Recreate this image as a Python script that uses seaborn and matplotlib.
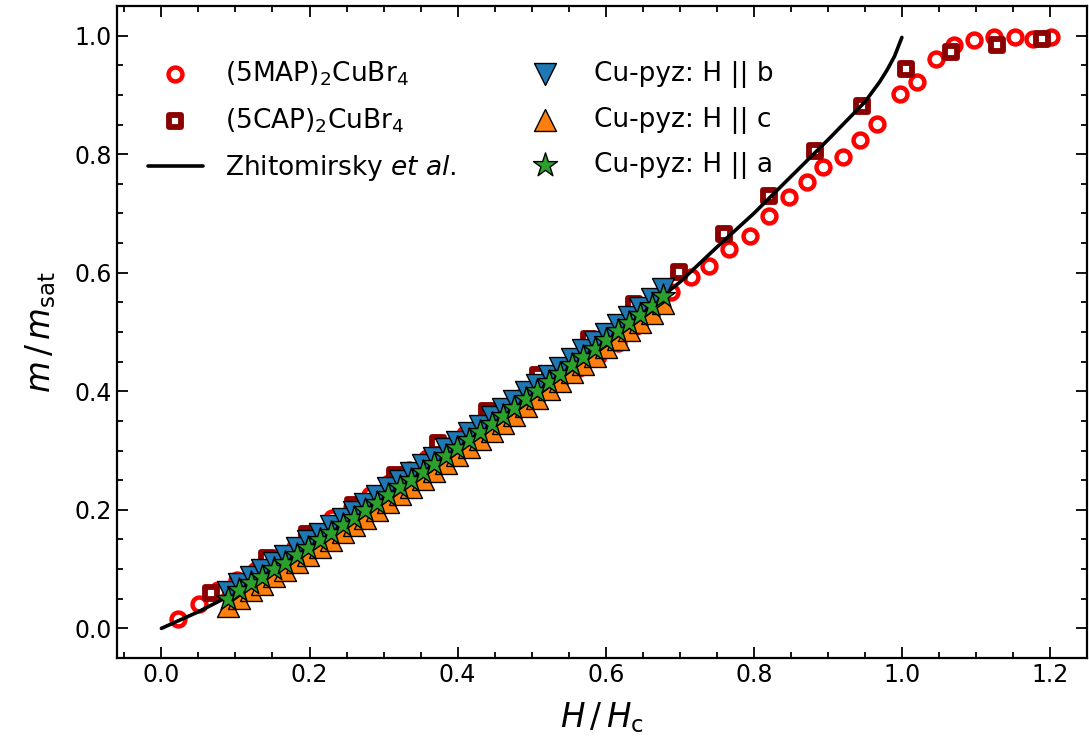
import matplotlib
matplotlib.use("Agg")
import matplotlib.pyplot as plt
import seaborn as sns
import pandas as pd
from matplotlib.ticker import MultipleLocator

# ---- data ----
map_h = [0.023, 0.051, 0.076, 0.102, 0.128, 0.154, 0.180, 0.205, 0.231, 0.257,
         0.282, 0.308, 0.334, 0.359, 0.385, 0.410, 0.436, 0.462, 0.487, 0.513,
         0.538, 0.564, 0.590, 0.616, 0.641, 0.665, 0.688, 0.715, 0.740, 0.767,
         0.795, 0.821, 0.848, 0.872, 0.894, 0.920, 0.944, 0.967, 0.997, 1.020,
         1.046, 1.070, 1.097, 1.124, 1.153, 1.177, 1.201]
map_m = [0.016, 0.041, 0.064, 0.081, 0.098, 0.118, 0.137, 0.162, 0.186, 0.205,
         0.225, 0.245, 0.267, 0.287, 0.308, 0.328, 0.350, 0.370, 0.390, 0.405,
         0.423, 0.440, 0.460, 0.482, 0.510, 0.540, 0.568, 0.593, 0.611, 0.640,
         0.662, 0.696, 0.728, 0.753, 0.779, 0.796, 0.824, 0.851, 0.902, 0.921,
         0.961, 0.985, 0.992, 0.997, 0.997, 0.995, 0.998]

cap_h = [0.067, 0.142, 0.196, 0.259, 0.316, 0.374, 0.440, 0.508, 0.577, 0.638,
         0.699, 0.760, 0.820, 0.883, 0.946, 1.005, 1.066, 1.128, 1.189]
cap_m = [0.059, 0.118, 0.160, 0.208, 0.258, 0.312, 0.366, 0.427, 0.489, 0.548,
         0.602, 0.666, 0.729, 0.805, 0.882, 0.943, 0.973, 0.985, 0.994]

zh_h = [0.0, 0.05, 0.1, 0.15, 0.2, 0.25, 0.3, 0.35, 0.4, 0.45, 0.5, 0.55, 0.6,
        0.65, 0.7, 0.75, 0.8, 0.85, 0.9, 0.95, 0.97, 0.98, 0.99, 1.0]
zh_m = [0.0, 0.028, 0.060, 0.098, 0.138, 0.178, 0.220, 0.262, 0.305, 0.349,
        0.394, 0.440, 0.486, 0.533, 0.584, 0.643, 0.700, 0.762, 0.824, 0.888,
        0.922, 0.942, 0.965, 0.997]

pyz_h = [0.090, 0.105, 0.121, 0.136, 0.152, 0.167, 0.183, 0.198, 0.214, 0.229,
         0.245, 0.260, 0.275, 0.291, 0.306, 0.322, 0.337, 0.353, 0.368, 0.384,
         0.399, 0.415, 0.430, 0.446, 0.461, 0.476, 0.492, 0.507, 0.523, 0.538,
         0.554, 0.569, 0.585, 0.600, 0.616, 0.631, 0.646, 0.662, 0.677]
pyz_b = [0.061, 0.075, 0.087, 0.098, 0.111, 0.122, 0.135, 0.147, 0.160, 0.172,
         0.185, 0.197, 0.210, 0.223, 0.236, 0.249, 0.262, 0.275, 0.288, 0.302,
         0.315, 0.329, 0.342, 0.356, 0.370, 0.383, 0.398, 0.411, 0.426, 0.440,
         0.455, 0.469, 0.483, 0.497, 0.512, 0.526, 0.540, 0.555, 0.572]
pyz_c = [0.038, 0.052, 0.064, 0.075, 0.088, 0.099, 0.112, 0.124, 0.137, 0.149,
         0.162, 0.174, 0.187, 0.200, 0.213, 0.226, 0.239, 0.252, 0.265, 0.279,
         0.292, 0.306, 0.319, 0.333, 0.347, 0.360, 0.375, 0.388, 0.403, 0.417,
         0.432, 0.446, 0.460, 0.474, 0.489, 0.503, 0.517, 0.532, 0.549]
pyz_a = [0.050, 0.064, 0.076, 0.087, 0.100, 0.111, 0.124, 0.136, 0.149, 0.161,
         0.174, 0.186, 0.199, 0.212, 0.225, 0.238, 0.251, 0.264, 0.277, 0.291,
         0.304, 0.318, 0.331, 0.345, 0.359, 0.372, 0.387, 0.400, 0.415, 0.429,
         0.444, 0.458, 0.472, 0.486, 0.501, 0.515, 0.529, 0.544, 0.561]

labels = [r"(5MAP)$_2$CuBr$_4$", r"(5CAP)$_2$CuBr$_4$", r"Zhitomirsky $et$ $al$.",
          "Cu-pyz: H || b", "Cu-pyz: H || c", "Cu-pyz: H || a"]

# ---- style ----
sns.set_style("white")
plt.rcParams["font.family"] = ["DejaVu Sans"]
plt.rcParams["mathtext.fontset"] = "dejavusans"
for k in ["text.color", "axes.labelcolor", "xtick.color", "ytick.color", "axes.edgecolor"]:
    plt.rcParams[k] = "black"

fig = plt.figure(figsize=(10.89, 7.47), dpi=100)
ax = fig.add_axes([117 / 1089, 1 - 658 / 747, 970 / 1089, 652 / 747])

sns.scatterplot(x=map_h, y=map_m, ax=ax, marker="o", s=100, facecolor="white",
                edgecolor="#ff0000", linewidth=3.2, label=labels[0], zorder=2)
sns.scatterplot(x=cap_h, y=cap_m, ax=ax, marker="s", s=75, facecolor="white",
                edgecolor="#8b0000", linewidth=4.2, label=labels[1], zorder=3)
sns.lineplot(x=zh_h, y=zh_m, ax=ax, color="black", lw=2.6, sort=False,
             estimator=None, label=labels[2], zorder=4)
sns.scatterplot(x=pyz_h, y=pyz_b, ax=ax, marker="v", s=250, color="#1f77b4",
                edgecolor="black", linewidth=1.0, label=labels[3], zorder=5)
sns.scatterplot(x=pyz_h, y=pyz_c, ax=ax, marker="^", s=250, color="#ff7f0e",
                edgecolor="black", linewidth=1.0, label=labels[4], zorder=6)
sns.scatterplot(x=pyz_h, y=pyz_a, ax=ax, marker="*", s=330, color="#2ca02c",
                edgecolor="black", linewidth=1.0, label=labels[5], zorder=7)

ax.set_xlim(-0.06, 1.25)
ax.set_ylim(-0.05, 1.05)
ax.xaxis.set_major_locator(MultipleLocator(0.2))
ax.xaxis.set_minor_locator(MultipleLocator(0.05))
ax.yaxis.set_major_locator(MultipleLocator(0.2))
ax.yaxis.set_minor_locator(MultipleLocator(0.05))
ax.tick_params(which="both", direction="in", top=True, right=True,
               bottom=True, left=True, labelsize=17, width=1.3, colors="black")
ax.tick_params(which="major", length=8)
ax.tick_params(which="minor", length=4)
for sp in ax.spines.values():
    sp.set_linewidth(1.6)
    sp.set_color("black")

ax.set_xlabel(r"$H\,/\,H_{\rm c}$", fontsize=23.5, labelpad=10)
ax.set_ylabel(r"$m\,/\,m_{\rm sat}$", fontsize=23.5, labelpad=12)

ax.legend(loc="upper left", bbox_to_anchor=(0.007, 0.955), ncol=2, frameon=False,
          fontsize=19, handlelength=2.1, handletextpad=0.83, labelspacing=0.7,
          columnspacing=2.3, scatterpoints=1)

fig.savefig("out.png", dpi=100)
